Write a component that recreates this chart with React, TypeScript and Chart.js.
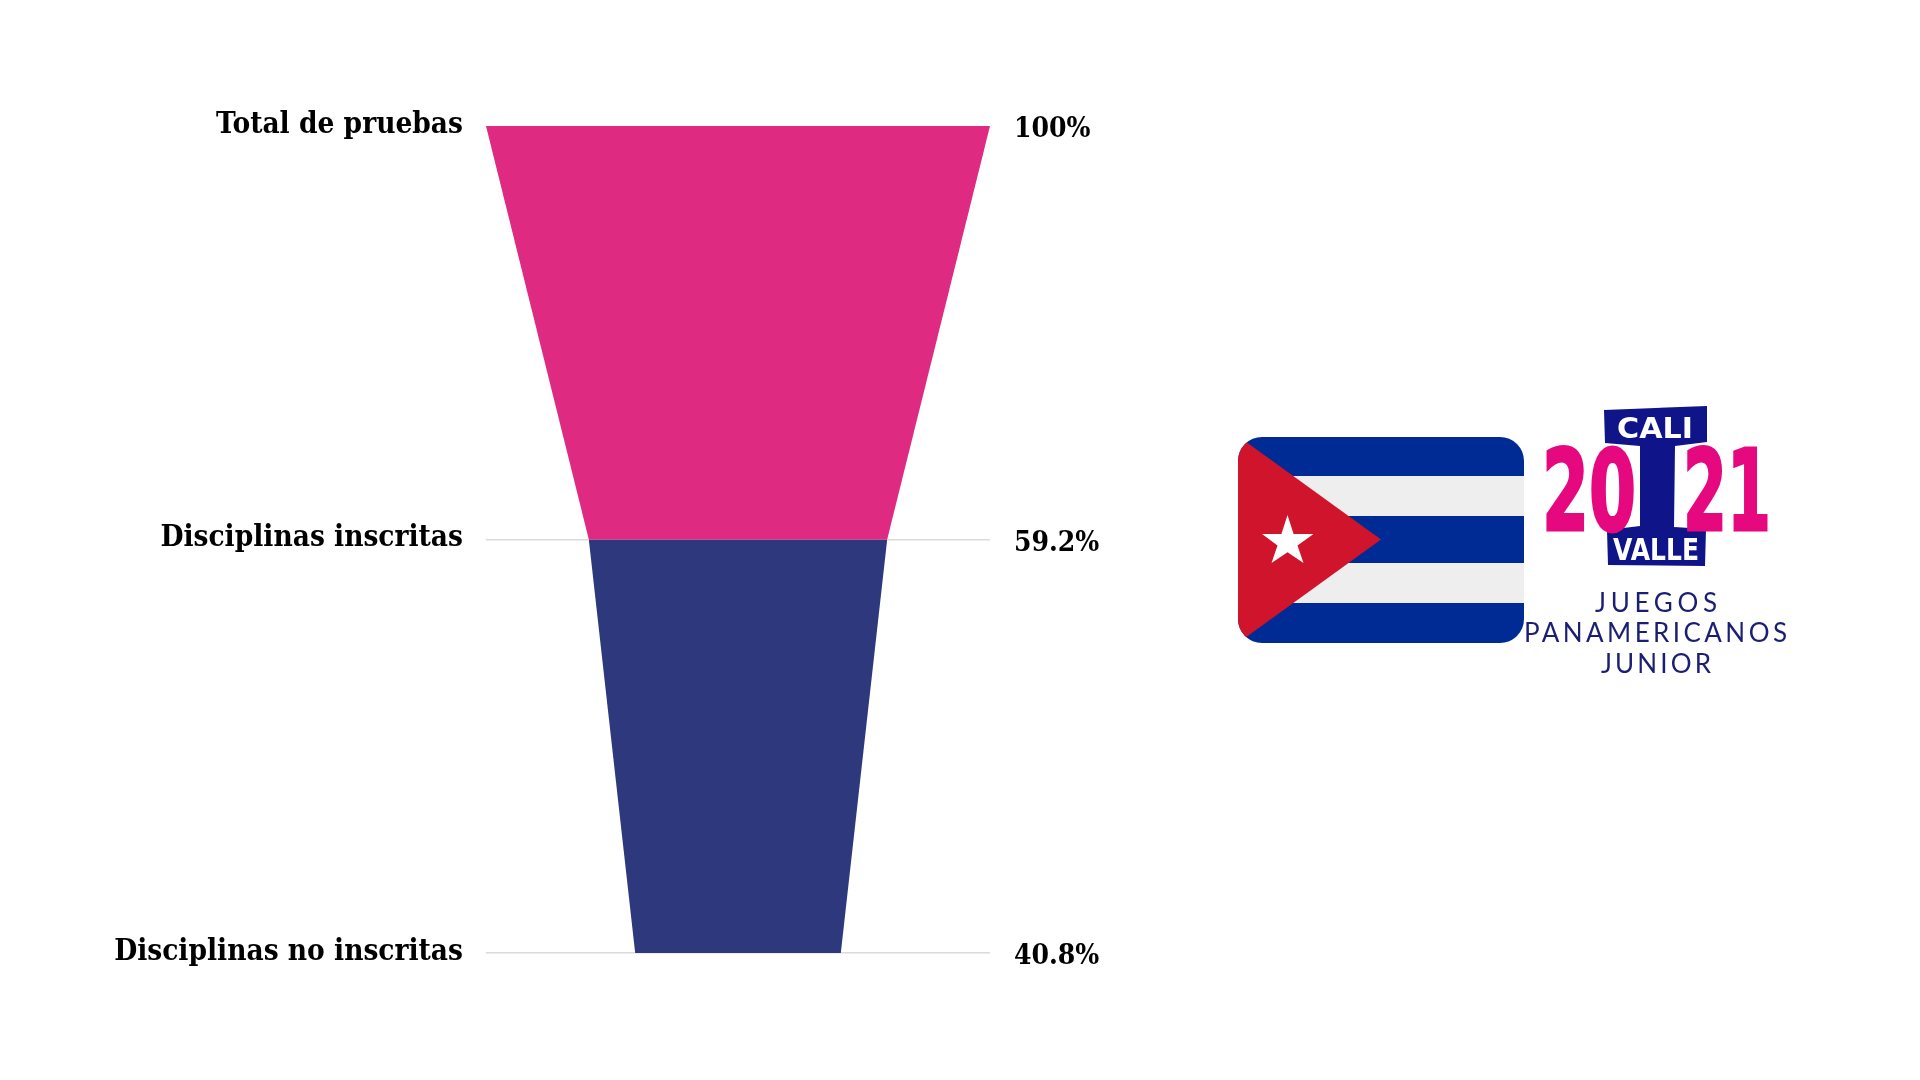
import React, { useEffect, useRef } from "react";
import { Chart, registerables } from "chart.js";

Chart.register(...registerables);

const stages = ["Total de pruebas", "Disciplinas inscritas", "Disciplinas no inscritas"];
const percents = [100, 59.2, 40.8];
const percentLabels = ["100%", "59.2%", "40.8%"];
const stageColors = ["#DF2A82", "#2E387D"];

const labelFont = { family: '"DejaVu Serif Condensed", "DejaVu Serif", serif', size: 29.5, weight: "bold" };
const pctFont = { family: '"DejaVu Serif Condensed", "DejaVu Serif", serif', size: 28, weight: "bold" };

function edgeDatasets() {
  const out: any[] = [];
  stageColors.forEach((color, i) => {
    const a = percents[i] / 2;
    const b = percents[i + 1] / 2;
    const base = { showLine: true, pointRadius: 0, borderWidth: 0, tension: 0 };
    out.push({ ...base, label: stages[i] + " (borde superior)", data: [{ x: -a, y: i }, { x: a, y: i }], fill: false });
    out.push({
      ...base,
      label: stages[i],
      data: [{ x: -a, y: i }, { x: -b, y: i + 1 }, { x: b, y: i + 1 }, { x: a, y: i }],
      fill: "-1",
      backgroundColor: color,
    });
  });
  return out;
}

function Decor() {
  const cond = '"DejaVu Sans", sans-serif';
  const thin = 'Lato, "Noto Sans", sans-serif';
  const navy = "#0F1488";
  const pink = "#E6087F";
  const txt = "#1B1F72";
  return (
    <svg width={1920} height={1080} style={{ position: "absolute", left: 0, top: 0, pointerEvents: "none" }}>
      <defs>
        <clipPath id="flagClip"><rect x={1238} y={437} width={286} height={206} rx={24} ry={24} /></clipPath>
      </defs>
      <g clipPath="url(#flagClip)">
        <rect x={1238} y={437} width={286} height={206} fill="#002B94" />
        <rect x={1238} y={476} width={286} height={40} fill="#EEEEEE" />
        <rect x={1238} y={563} width={286} height={40} fill="#EEEEEE" />
        <polygon points="1238,436 1381,539.5 1238,643" fill="#CF142B" />
        <polygon points="1287.5,515 1293.6,534 1313.5,534 1297.5,545.4 1303.5,563 1287.5,552.3 1271.5,563 1277.5,545.4 1262,534 1281.4,534" fill="#FFFFFF" />
      </g>
      <polygon points="1604,410 1707,406 1707,442 1675,446 1674,527 1706,529 1705,566 1608,565 1607,530 1640,526 1640,446 1605,443" fill={navy} />
      <text x={1589} y={530} textAnchor="middle" fontFamily={cond} fontWeight={700} fontSize={112} fill={pink} stroke={pink} strokeWidth={3} textLength={94} lengthAdjust="spacingAndGlyphs">20</text>
      <text x={1727} y={530} textAnchor="middle" fontFamily={cond} fontWeight={700} fontSize={112} fill={pink} stroke={pink} strokeWidth={3} textLength={88} lengthAdjust="spacingAndGlyphs">21</text>
      <text x={1655} y={438} textAnchor="middle" fontFamily={cond} fontWeight={700} fontSize={29} fill="#FFFFFF" textLength={76} lengthAdjust="spacingAndGlyphs">CALI</text>
      <text x={1656} y={560} textAnchor="middle" fontFamily={cond} fontWeight={700} fontSize={31} fill="#FFFFFF" textLength={86} lengthAdjust="spacingAndGlyphs">VALLE</text>
      <text x={1656} y={612} textAnchor="middle" fontFamily={thin} fontSize={26} fill={txt} textLength={122} lengthAdjust="spacing">JUEGOS</text>
      <text x={1655.5} y={642} textAnchor="middle" fontFamily={thin} fontSize={26} fill={txt} textLength={263} lengthAdjust="spacing">PANAMERICANOS</text>
      <text x={1656} y={673} textAnchor="middle" fontFamily={thin} fontSize={26} fill={txt} textLength={110} lengthAdjust="spacing">JUNIOR</text>
    </svg>
  );
}

export default function App() {
  const ref = useRef<HTMLCanvasElement | null>(null);
  useEffect(() => {
    const chart = new Chart(ref.current!, {
      type: "scatter",
      data: { datasets: edgeDatasets() },
      options: {
        animation: false,
        responsive: false,
        layout: { padding: { top: 126, bottom: 127, left: 0, right: 0 } },
        plugins: { legend: { display: false }, tooltip: { enabled: false } },
        scales: {
          x: { type: "linear", min: -50, max: 50, display: false },
          y: {
            type: "linear",
            position: "left",
            reverse: true,
            min: 0,
            max: stages.length - 1,
            afterFit: (s: any) => { s.width = 486; },
            border: { display: false },
            grid: {
              drawTicks: false,
              color: (c: any) => (c.tick && c.tick.value === 0 ? "rgba(0,0,0,0)" : "#DADADA"),
              lineWidth: 1.5,
            },
            ticks: {
              stepSize: 1,
              padding: 23,
              labelOffset: -1,
              color: "#000000",
              font: labelFont,
              callback: (v: any) => stages[v] ?? "",
            },
          },
          yRight: {
            type: "linear",
            position: "right",
            reverse: true,
            min: 0,
            max: stages.length - 1,
            afterFit: (s: any) => { s.width = 930; },
            border: { display: false },
            grid: { display: false, drawTicks: false },
            ticks: {
              stepSize: 1,
              padding: 24,
              labelOffset: 4,
              color: "#000000",
              font: pctFont,
              callback: (v: any) => percentLabels[v] ?? "",
            },
          },
        },
      } as any,
    });
    return () => chart.destroy();
  }, []);
  return (
    <div style={{ position: "fixed", left: 0, top: 0, width: 1920, height: 1080, background: "#FFFFFF", overflow: "hidden" }}>
      <canvas ref={ref} width={1920} height={1080} style={{ position: "absolute", left: 0, top: 0 }} />
      <Decor />
    </div>
  );
}
